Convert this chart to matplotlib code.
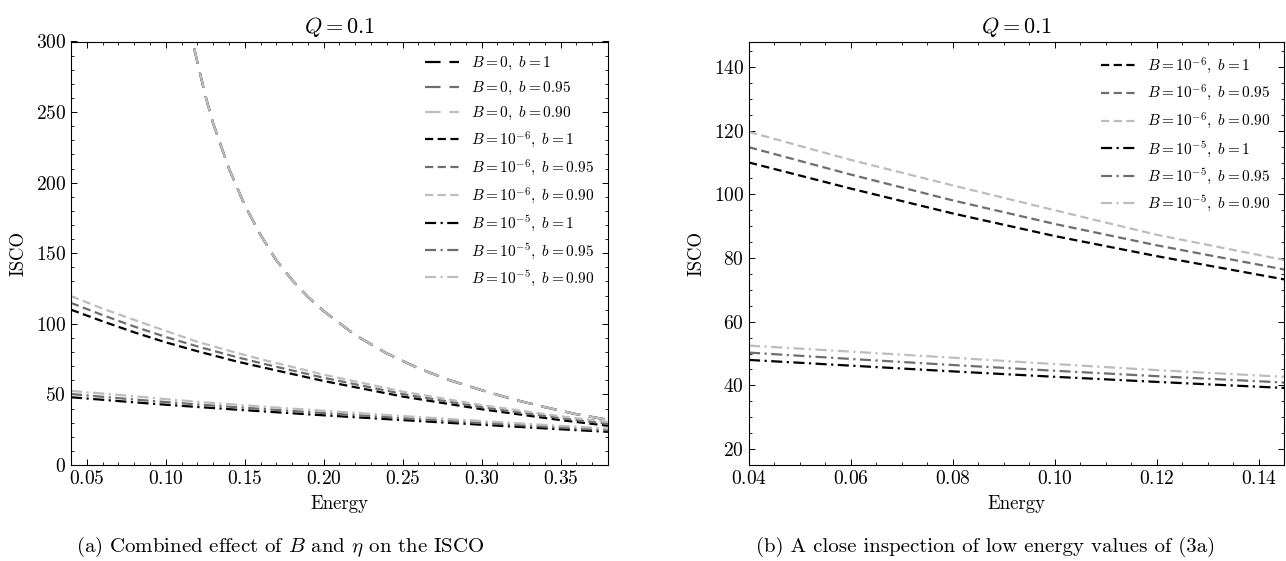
import numpy as np
import matplotlib
matplotlib.use("Agg")
import matplotlib.pyplot as plt
from matplotlib.ticker import MultipleLocator

plt.rcParams.update({
    "font.family": "serif",
    "font.serif": ["cmr10"],
    "mathtext.fontset": "cm",
    "axes.formatter.use_mathtext": True,
    "xtick.direction": "in",
    "ytick.direction": "in",
    "xtick.top": True,
    "ytick.right": True,
    "xtick.major.size": 4.3,
    "ytick.major.size": 4.3,
    "xtick.minor.size": 2.2,
    "ytick.minor.size": 2.2,
    "xtick.major.width": 0.7,
    "ytick.major.width": 0.7,
    "xtick.minor.width": 0.6,
    "ytick.minor.width": 0.6,
    "axes.linewidth": 0.8,
})

# ISCO radius vs. energy, Q = 0.1
# B = 0 (all b collapse onto one curve)
energy_b0 = [0.118, 0.125, 0.13, 0.14, 0.15, 0.16, 0.17, 0.18, 0.19, 0.20,
             0.22, 0.24, 0.26, 0.28, 0.30, 0.32, 0.34, 0.36, 0.38]
isco_b0 = [295, 262, 242, 210, 184, 163, 145, 131, 119, 109,
           92, 79, 68.5, 60, 53, 46.5, 41, 36, 32]

energy = [0.04, 0.06, 0.08, 0.10, 0.12, 0.145, 0.16, 0.20, 0.25, 0.30, 0.35, 0.38]

# B = 1e-6
isco_b6_100 = [110.0, 101.8, 94.0, 86.9, 80.6, 73.3, 69.5, 59.5, 48.5, 39.5, 31.8, 27.8]
isco_b6_095 = [114.8, 106.2, 98.1, 90.7, 84.0, 76.4, 72.2, 61.8, 50.3, 41.0, 33.2, 29.2]
isco_b6_090 = [119.6, 110.8, 102.8, 95.0, 87.3, 79.4, 75.0, 64.0, 52.0, 42.4, 34.5, 30.5]

# B = 1e-5
isco_b5_100 = [48.0, 46.2, 44.4, 42.7, 41.1, 39.2, 38.1, 35.2, 31.8, 28.5, 25.3, 23.5]
isco_b5_095 = [50.3, 48.3, 46.4, 44.6, 42.9, 40.9, 39.8, 36.8, 33.2, 29.8, 26.5, 24.6]
isco_b5_090 = [52.5, 50.6, 48.7, 46.7, 44.8, 42.7, 41.5, 38.4, 34.7, 31.1, 27.7, 25.8]

shades = ["black", "#6e6e6e", "#bdbdbd"]
b_labels = ["1", "0.95", "0.90"]
long_dash = (0, (7, 4))
short_dash = (0, (3.7, 2.0))
dash_dot = (0, (5, 2, 1, 2))
lw = 1.6

fig = plt.figure(figsize=(12.86, 5.61), dpi=100)
ax1 = fig.add_axes([71 / 1286, 1 - 465 / 561, 537 / 1286, 423.5 / 561])
ax2 = fig.add_axes([749 / 1286, 1 - 465 / 561, 535 / 1286, 423.5 / 561])

# left panel: full energy range
for c, bl in zip(shades, b_labels):
    ax1.plot(energy_b0, isco_b0, color=c, ls=long_dash, lw=lw,
             label=rf"$B=0,\ b={bl}$")
for c, bl, y in zip(shades, b_labels, [isco_b6_100, isco_b6_095, isco_b6_090]):
    ax1.plot(energy, y, color=c, ls=short_dash, lw=lw, label=rf"$B=10^{{-6}},\ b={bl}$")
for c, bl, y in zip(shades, b_labels, [isco_b5_100, isco_b5_095, isco_b5_090]):
    ax1.plot(energy, y, color=c, ls=dash_dot, lw=lw, label=rf"$B=10^{{-5}},\ b={bl}$")

ax1.set_xlim(0.04, 0.38)
ax1.set_ylim(0, 300)
ax1.xaxis.set_major_locator(MultipleLocator(0.05))
ax1.xaxis.set_minor_locator(MultipleLocator(0.01))
ax1.yaxis.set_major_locator(MultipleLocator(50))
ax1.yaxis.set_minor_locator(MultipleLocator(10))

# right panel: zoom on low energies
for c, bl, y in zip(shades, b_labels, [isco_b6_100, isco_b6_095, isco_b6_090]):
    ax2.plot(energy, y, color=c, ls=short_dash, lw=lw, label=rf"$B=10^{{-6}},\ b={bl}$")
for c, bl, y in zip(shades, b_labels, [isco_b5_100, isco_b5_095, isco_b5_090]):
    ax2.plot(energy, y, color=c, ls=dash_dot, lw=lw, label=rf"$B=10^{{-5}},\ b={bl}$")

ax2.set_xlim(0.04, 0.145)
ax2.set_ylim(15, 148)
ax2.xaxis.set_major_locator(MultipleLocator(0.02))
ax2.xaxis.set_minor_locator(MultipleLocator(0.005))
ax2.yaxis.set_major_locator(MultipleLocator(20))
ax2.yaxis.set_minor_locator(MultipleLocator(5))

for ax in (ax1, ax2):
    ax.set_title(r"$Q=0.1$", fontsize=16, pad=6)
    ax.set_xlabel("Energy", fontsize=13.5, labelpad=5)
    ax.set_ylabel("ISCO", fontsize=13.5, labelpad=6)
    ax.tick_params(which="both", labelsize=14)
    ax.legend(loc="upper right", frameon=False, fontsize=11,
              handlelength=2.2, labelspacing=0.5, borderaxespad=0.5)

fig.text(280 / 1286, 1 - 547 / 561, r"(a) Combined effect of $B$ and $\eta$ on the ISCO",
         ha="center", va="center", fontsize=15)
fig.text(986 / 1286, 1 - 547 / 561, "(b) A close inspection of low energy values of (3a)",
         ha="center", va="center", fontsize=15)

fig.savefig("out.png", dpi=100)
